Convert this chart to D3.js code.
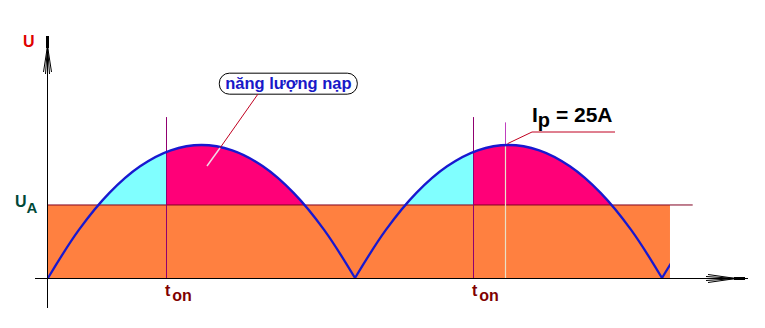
<!DOCTYPE html>
<html>
<head>
<meta charset="utf-8">
<script src="https://cdn.jsdelivr.net/npm/d3@7"></script>
<style>
  body { margin: 0; background: #fff; }
  text { font-family: "Liberation Sans", Arial, sans-serif; font-weight: bold; }
</style>
</head>
<body>
<div id="chart"></div>
<script>
// half-wave samples (t within one half period, relative voltage)
const sampleT = [0, 0.1, 0.2, 0.3, 0.4, 0.5, 0.6, 0.7, 0.8, 0.9, 1]
const arcValues = [0, 0.36, 0.64, 0.84, 0.96, 1, 0.96, 0.84, 0.64, 0.36, 0]
const arcStarts = [0, 1, 2]
const tEnd = 2.026
const uA = 0.549
const tOn = [0.384, 1.384]
const tIp = 1.49
const tonLabels = ['t', 'on']
const annotation = 'năng lượng nạp'
const ipLabel = ['I', 'p', ' = 25A']

const canvasWidth = 765
const canvasHeight = 328

const x = d3.scaleLinear().domain([0, 1]).range([48, 355])
const y = d3.scaleLinear().domain([0, 1]).range([278, 145])

const svg = d3
  .select('#chart')
  .append('svg')
  .attr('width', canvasWidth)
  .attr('height', canvasHeight)

const defs = svg.append('defs')

const arcs = arcStarts.map(s => sampleT.map((t, i) => ({t: s + t, u: arcValues[i]})))

const area = d3
  .area()
  .x(d => x(d.t))
  .y0(y(0))
  .y1(d => y(d.u))
  .curve(d3.curveCatmullRom)

const line = d3
  .line()
  .x(d => x(d.t))
  .y(d => y(d.u))
  .curve(d3.curveCatmullRom)

// cyan before t_on, magenta after
tOn.forEach((ton, k) => {
  const start = arcStarts[k]
  defs.append('clipPath').attr('id', `pre${k}`)
    .append('rect')
    .attr('x', x(start)).attr('y', 0)
    .attr('width', x(ton) - x(start)).attr('height', canvasHeight)
  defs.append('clipPath').attr('id', `post${k}`)
    .append('rect')
    .attr('x', x(ton)).attr('y', 0)
    .attr('width', x(start + 1) - x(ton)).attr('height', canvasHeight)

  svg.append('path').datum(arcs[k])
    .attr('d', area).attr('fill', '#80ffff')
    .attr('clip-path', `url(#pre${k})`)
  svg.append('path').datum(arcs[k])
    .attr('d', area).attr('fill', '#ff0078')
    .attr('clip-path', `url(#post${k})`)
})

// orange block under U_A
svg.append('rect')
  .attr('x', x(0)).attr('y', y(uA))
  .attr('width', x(tEnd) - x(0)).attr('height', y(0) - y(uA))
  .attr('fill', '#ff8040')

// U_A level line
svg.append('line')
  .attr('x1', x(0) - 1).attr('x2', x(2.1))
  .attr('y1', y(uA)).attr('y2', y(uA))
  .attr('stroke', '#800020').attr('stroke-width', 1)

// t_on markers
svg.selectAll('line.ton')
  .data(tOn)
  .enter()
  .append('line')
  .attr('class', 'ton')
  .attr('x1', d => Math.round(x(d)) + 0.5).attr('x2', d => Math.round(x(d)) + 0.5)
  .attr('y1', y(1.21)).attr('y2', y(0))
  .attr('stroke', '#900070').attr('stroke-width', 1)

// peak current marker
const ipX = Math.round(x(tIp)) + 0.5
svg.append('line')
  .attr('x1', ipX).attr('x2', ipX)
  .attr('y1', y(1.17)).attr('y2', y(1))
  .attr('stroke', '#c040c0').attr('stroke-width', 1)
svg.append('line')
  .attr('x1', ipX).attr('x2', ipX)
  .attr('y1', y(1)).attr('y2', y(0))
  .attr('stroke', '#e8e0c8').attr('stroke-width', 1.2)

// waveform
defs.append('clipPath').attr('id', 'wave')
  .append('rect')
  .attr('x', 0).attr('y', 0)
  .attr('width', x(tEnd)).attr('height', canvasHeight)

svg.selectAll('path.arc')
  .data(arcs)
  .enter()
  .append('path')
  .attr('class', 'arc')
  .attr('d', line)
  .attr('fill', 'none')
  .attr('stroke', '#1818d0')
  .attr('stroke-width', 2.3)
  .attr('clip-path', 'url(#wave)')

// axes
const x0 = x(0) - 0.5
svg.append('line')
  .attr('x1', x0).attr('x2', x0)
  .attr('y1', 36).attr('y2', 308)
  .attr('stroke', '#000').attr('stroke-width', 1)
svg.append('line')
  .attr('x1', x0).attr('x2', x0)
  .attr('y1', 36).attr('y2', 48)
  .attr('stroke', '#000').attr('stroke-width', 3)
;[[-4, 72], [-2, 74], [2, 74], [4, 72]].forEach(([dx, yy]) => {
  svg.append('line')
    .attr('x1', x0).attr('y1', 46)
    .attr('x2', x0 + dx).attr('y2', yy)
    .attr('stroke', '#000').attr('stroke-width', 1)
})

const y0 = y(0) + 0.5
svg.append('line')
  .attr('x1', 35).attr('x2', 748)
  .attr('y1', y0).attr('y2', y0)
  .attr('stroke', '#000').attr('stroke-width', 1)
svg.append('line')
  .attr('x1', 734).attr('x2', 745)
  .attr('y1', y0).attr('y2', y0)
  .attr('stroke', '#000').attr('stroke-width', 3)
;[[-4, 708], [-2, 706], [2, 706], [4, 708]].forEach(([dy, xx]) => {
  svg.append('line')
    .attr('x1', 736).attr('y1', y0)
    .attr('x2', xx).attr('y2', y0 + dy)
    .attr('stroke', '#000').attr('stroke-width', 1)
})

// axis labels
svg.append('text')
  .attr('x', 23).attr('y', 47)
  .attr('font-size', 16).attr('fill', '#e00000')
  .text('U')

const ua = svg.append('text')
  .attr('x', 15).attr('y', y(uA) + 2)
  .attr('font-size', 16).attr('fill', '#004838')
ua.append('tspan').text('U')
ua.append('tspan').attr('dy', 6).attr('font-size', 15).text('A')

svg.selectAll('text.ton')
  .data(tOn)
  .enter()
  .append('text')
  .attr('class', 'ton')
  .attr('x', d => x(d) - 1).attr('y', 296)
  .attr('font-size', 16).attr('fill', '#800000')
  .each(function () {
    const t = d3.select(this)
    t.append('tspan').text(tonLabels[0])
    t.append('tspan').attr('dx', 2).attr('dy', 5).text(tonLabels[1])
  })

// annotation: charging energy
const lbl = svg.append('g').attr('transform', `translate(${x(0.558)}, ${y(1.54)})`)
lbl.append('rect')
  .attr('x', 0).attr('y', 0).attr('width', 138).attr('height', 21)
  .attr('rx', 10).attr('fill', '#fff').attr('stroke', '#000').attr('stroke-width', 1)
lbl.append('text')
  .attr('x', 69).attr('y', 16).attr('text-anchor', 'middle')
  .attr('font-size', 16.5).attr('fill', '#1818c8')
  .text(annotation)

svg.append('line')
  .attr('x1', 258).attr('y1', 94).attr('x2', 220).attr('y2', 148)
  .attr('stroke', '#c00020').attr('stroke-width', 1)
svg.append('line')
  .attr('x1', 220).attr('y1', 148).attr('x2', 207).attr('y2', 166)
  .attr('stroke', '#f0d8e8').attr('stroke-width', 1.5)

// annotation: peak current
svg.append('polyline')
  .attr('points', `${ipX + 2},${y(1.01)} 532,132 615,132`)
  .attr('fill', 'none').attr('stroke', '#c00020').attr('stroke-width', 1)

const ip = svg.append('text')
  .attr('x', 532).attr('y', 122)
  .attr('font-size', 21).attr('fill', '#000')
ip.append('tspan').text(ipLabel[0])
ip.append('tspan').attr('dy', 5).attr('font-size', 20).text(ipLabel[1])
ip.append('tspan').attr('dy', -5).text(ipLabel[2])
</script>
</body>
</html>
